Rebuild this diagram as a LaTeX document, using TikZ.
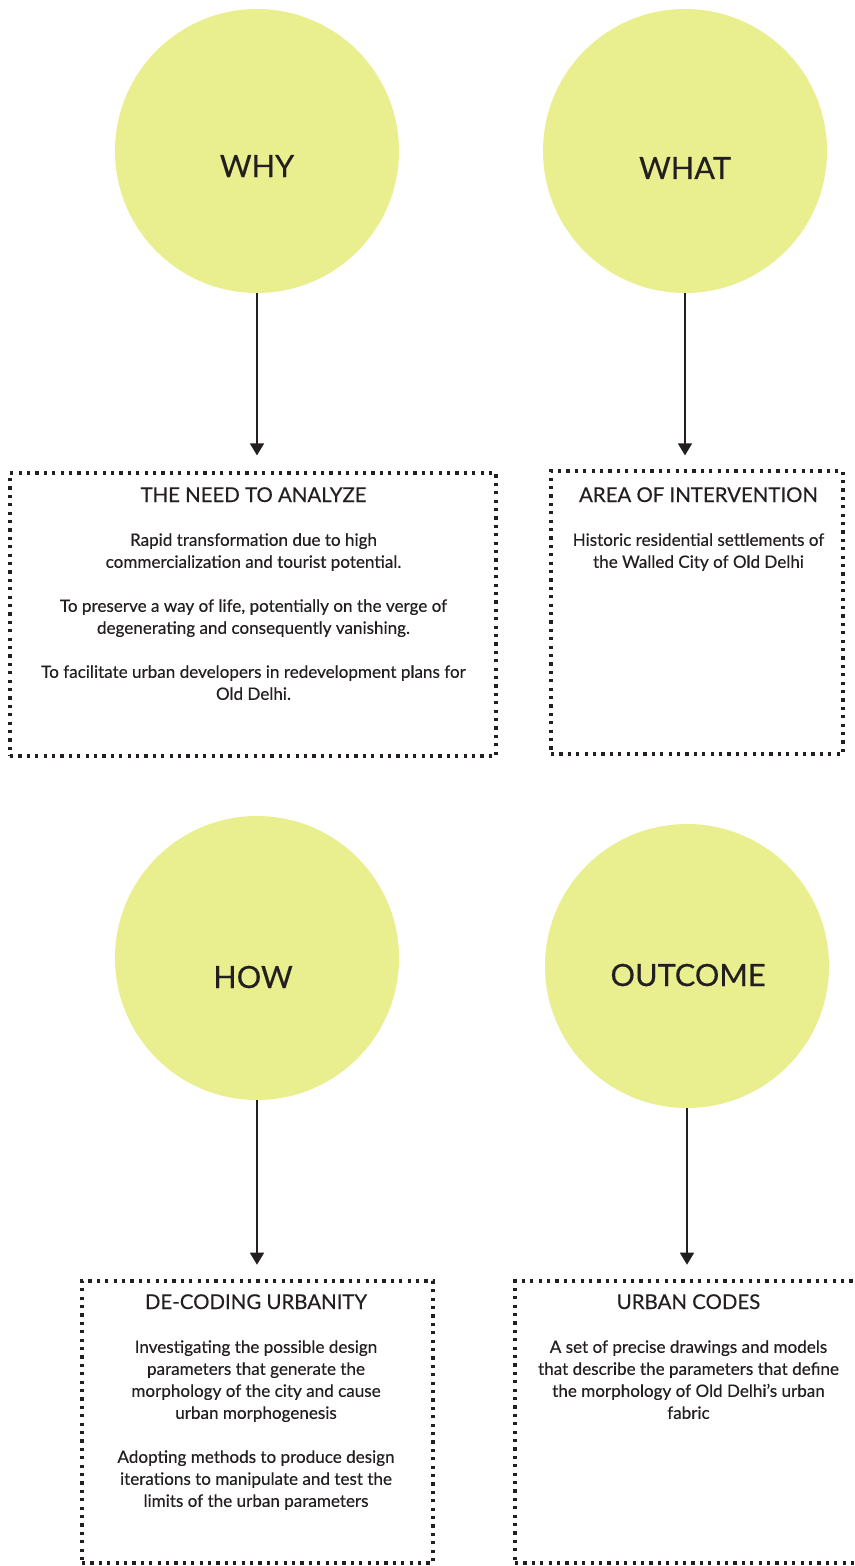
\documentclass[tikz,border=0pt]{standalone}
\usepackage{fontspec}
\setmainfont{Lato}[FakeBold=0.35]
\usetikzlibrary{positioning,fit,arrows.meta}
\definecolor{bubblefill}{RGB}{233,238,142}
\definecolor{ink}{RGB}{35,31,32}

\begin{document}
\begin{tikzpicture}[x=0.75pt,y=-0.75pt,
    bubble/.style={circle,fill=bubblefill,minimum size=213pt,inner sep=0pt},
    bubbletext/.style={anchor=base,text=ink,font=\fontsize{23}{27}\selectfont},
    dotbox/.style={draw=ink,line width=2.4pt,dash pattern=on 2.4pt off 3.9pt,inner sep=0pt},
    boxtitle/.style={anchor=base,text=ink,font=\fontsize{15.3}{18}\selectfont},
    boxbody/.style={anchor=north,align=center,inner sep=0pt,text=ink,font=\fontsize{12.8}{16.5}\selectfont},
    arrow/.style={draw=ink,line width=1pt,-{Triangle[width=10.5pt,length=9pt]}}]
\useasboundingbox (0,0) rectangle (854,1566);

% circles
\node[bubble] (why) at (257,151) {};
\node[bubble] (what) at (685,151) {};
\node[bubble] (how) at (257,958) {};
\node[bubble] (outcome) at (687,966) {};

\node[bubbletext] (whylabel) at (257,177) {WHY};
\node[bubbletext] (whatlabel) at (685,179) {WHAT};
\node[bubbletext] (howlabel) at (253,988) {HOW};
\node[bubbletext] (outcomelabel) at (688,986) {OUTCOME};

% boxes
\node[dotbox,fit={(10,473) (496,756)}] (need) {};
\node[dotbox,fit={(551,471) (843,754)}] (area) {};
\node[dotbox,fit={(82,1281) (433,1563)}] (decoding) {};
\node[dotbox,fit={(515,1281) (862,1563)}] (codes) {};

% arrows
\draw[arrow] (why.south) -- ([yshift=12pt]why.south |- need.north);
\draw[arrow] (what.south) -- ([yshift=10.5pt]what.south |- area.north);
\draw[arrow] (how.south) -- ([yshift=11pt]how.south |- decoding.north);
\draw[arrow] (outcome.south) -- ([yshift=11pt]outcome.south |- codes.north);

% texts
\node[boxtitle] (needtitle) at (253.5,502) {THE NEED TO ANALYZE};
\node[boxbody] (needbody) at (253.5,533) {Rapid transformation due to high\\
    commercialization and tourist potential.\\[16.5pt]
    To preserve a way of life, potentially on the verge of\\
    degenerating and consequently vanishing.\\[16.5pt]
    To facilitate urban developers in redevelopment plans for\\
    Old Delhi.};

\node[boxtitle] (areatitle) at (698.5,502) {AREA OF INTERVENTION};
\node[boxbody] (areabody) at (698.5,533) {Historic residential settlements of\\
    the Walled City of Old Delhi};

\node[boxtitle] (decodingtitle) at (256,1309) {DE-CODING URBANITY};
\node[boxbody] (decodingbody) at (256,1340) {Investigating the possible design\\
    parameters that generate the\\
    morphology of the city and cause\\
    urban morphogenesis\\[16.5pt]
    Adopting methods to produce design\\
    iterations to manipulate and test the\\
    limits of the urban parameters};

\node[boxtitle] (codestitle) at (688.5,1309) {URBAN CODES};
\node[boxbody] (codesbody) at (688.5,1340) {A set of precise drawings and models\\
    that describe the parameters that define\\
    the morphology of Old Delhi's urban\\
    fabric};

\end{tikzpicture}
\end{document}
